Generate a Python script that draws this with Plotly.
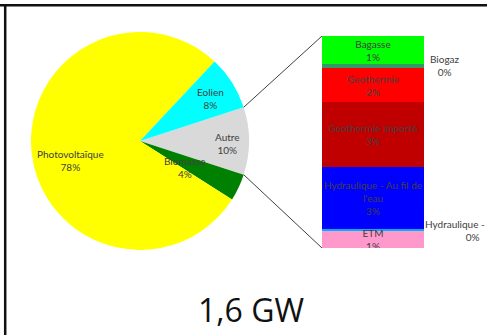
import math
import textwrap
import plotly.graph_objects as go

# Main pie: installed capacity shares (%)
pie_labels = ["Autre", "Biomasse", "Photovoltaïque", "Eolien"]
pie_values = [10, 4, 78, 8]
pie_colors = ["#D9D9D9", "#008000", "#FFFF00", "#00FFFF"]

# Breakdown of "Autre" (%), top to bottom
bar_labels = ["Bagasse", "Biogaz", "Geothermie", "Geothermie importé",
              "Hydraulique - Au fil de l'eau", "Hydraulique -", "ETM"]
bar_values = [1.3, 0.2, 1.6, 3.1, 2.9, 0.1, 0.8]
bar_colors = ["#00FF00", "#339966", "#FF0000", "#C00000",
              "#0000FF", "#00B0F0", "#FF99CC"]
outside_labels = {"Biogaz", "Hydraulique -"}

title_text = "1,6 GW"

W, H = 489, 335
FONT = "Lato"
TXT = "#404040"

# pixel geometry of the pie and the stacked bar
pie_cx, pie_cy, pie_r = 140, 141, 109
bar_x0, bar_x1, bar_top, bar_bot = 322, 424, 36, 248
rotation = 72


def px(x):
    return x / W


def py(y):
    return (H - y) / H


fig = go.Figure()

fig.add_trace(go.Pie(
    labels=pie_labels, values=pie_values, sort=False,
    direction="clockwise", rotation=rotation,
    marker=dict(colors=pie_colors, line=dict(width=0)),
    textinfo="none", hoverinfo="label+percent", showlegend=False,
    domain=dict(x=[px(pie_cx - pie_r), px(pie_cx + pie_r)],
                y=[py(pie_cy + pie_r), py(pie_cy - pie_r)]),
))

# stacked bar for the "Autre" slice
total = sum(bar_values)
for name, val, col in zip(bar_labels, bar_values, bar_colors):
    if name in outside_labels:
        txt = ""
    else:
        txt = "<br>".join(textwrap.wrap(name, 23)) + "<br>" + f"{val / 100:.0%}"
    fig.add_trace(go.Bar(
        x=["Autre"], y=[val], name=name, marker=dict(color=col, line=dict(width=0)),
        text=[txt], textposition="inside", insidetextanchor="middle",
        textangle=0, constraintext="none",
        insidetextfont=dict(family=FONT, size=10, color=TXT),
        showlegend=False, hoverinfo="name+y",
    ))

fig.update_layout(
    width=W, height=H, autosize=False,
    margin=dict(l=0, r=0, t=0, b=0),
    paper_bgcolor="white", plot_bgcolor="white",
    barmode="stack", bargap=0,
    xaxis=dict(domain=[px(bar_x0), px(bar_x1)], range=[-0.5, 0.5],
               visible=False, fixedrange=True),
    yaxis=dict(domain=[py(bar_bot), py(bar_top)], range=[total, 0],
               visible=False, fixedrange=True),
)

# pie slice labels
pie_label_pos = {
    "Photovoltaïque": (70, 160),
    "Eolien": (210, 98),
    "Autre": (227, 143),
    "Biomasse": (185, 167),
}
for name, val in zip(pie_labels, pie_values):
    x, y = pie_label_pos[name]
    fig.add_annotation(
        x=px(x), y=py(y), xref="paper", yref="paper", showarrow=False,
        text=f"{name}<br>{val / sum(pie_values):.0%}",
        font=dict(family=FONT, size=10, color=TXT),
        xanchor="center", yanchor="middle", align="center",
    )

# labels for the thin segments, placed beside the bar
cum = 0
for name, val in zip(bar_labels, bar_values):
    mid = cum + val / 2
    cum += val
    if name == "Biogaz":
        fig.add_annotation(
            x=px(445), y=mid, xref="paper", yref="y",
            text=f"{name}<br>{val / 100:.0%}", showarrow=False,
            font=dict(family=FONT, size=10, color=TXT),
            xanchor="center", yanchor="middle", align="center",
        )
    elif name == "Hydraulique -":
        fig.add_annotation(
            x=px(487), y=mid, xref="paper", yref="y", yshift=-1,
            text=f"{name}<br>{val / 100:.0%}&nbsp;&nbsp;", showarrow=False,
            font=dict(family=FONT, size=10, color=TXT),
            xanchor="right", yanchor="middle", align="right",
        )

# connector lines from the "Autre" slice edges to the bar corners
a0 = math.radians(rotation)
a1 = math.radians(rotation + 360 * pie_values[0] / sum(pie_values))
for ang, ybar in ((a0, bar_top), (a1, bar_bot)):
    sx = pie_cx + pie_r * math.sin(ang)
    sy = pie_cy - pie_r * math.cos(ang)
    fig.add_shape(type="line", xref="paper", yref="paper",
                  x0=px(sx), y0=py(sy), x1=px(bar_x0), y1=py(ybar),
                  line=dict(color="#404040", width=1))

# frame lines at top and left
fig.add_shape(type="line", xref="paper", yref="paper",
              x0=0, x1=px(487), y0=py(5.3), y1=py(5.3),
              line=dict(color="#111111", width=2.5))
fig.add_shape(type="line", xref="paper", yref="paper",
              x0=px(5.2), x1=px(5.2), y0=py(4), y1=0,
              line=dict(color="#111111", width=2.5))

fig.add_annotation(
    x=px(251), y=py(309), xref="paper", yref="paper", showarrow=False,
    text=title_text, font=dict(family="Open Sans", size=32, color="#111111"),
    xanchor="center", yanchor="middle",
)

fig.write_html("out.html")
